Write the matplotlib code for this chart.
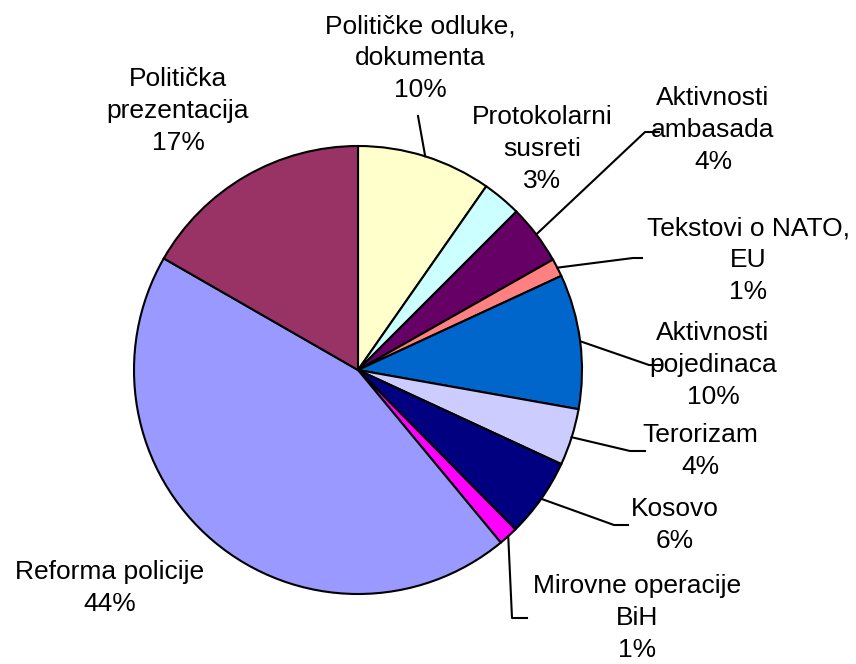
import matplotlib
matplotlib.use("Agg")
import matplotlib.pyplot as plt
import numpy as np

# category names and shares (%), clockwise from 12 o'clock
labels = ["Političke odluke,\ndokumenta", "Protokolarni\nsusreti", "Aktivnosti\nambasada",
          "Tekstovi o NATO,\nEU", "Aktivnosti\npojedinaca", "Terorizam", "Kosovo",
          "Mirovne operacije\nBiH", "Reforma policije", "Politička\nprezentacija"]
shares = [9.7, 2.8, 4.3, 1.3, 9.7, 4.1, 5.7, 1.4, 44.3, 16.7]
colors = ["#FFFFCC", "#CCFFFF", "#660066", "#FF8080", "#0066CC",
          "#CCCCFF", "#000080", "#FF00FF", "#9999FF", "#993366"]

# layout in pixels of the 856x664 canvas: label centres and leader elbows
CX, CY, R = 358, 370, 224
text_pos = [(420, 58), (542, 149), (713, 130), (748, 260), (713, 365),
            (700, 451), (675, 525), (637, 618), (110, 588), (178, 111)]
leaders = [[(418, 116)], [], [(645, 132), (659, 132)], [(633, 258), (642, 258)],
           [(649, 365), (660, 365)], [(630, 451), (645, 451)], [(614, 525), (628, 525)],
           [(512, 618), (527, 618)], [], []]


def px(p):
    return ((p[0] - CX) / R, (CY - p[1]) / R)


plt.rcParams['font.family'] = ['Liberation Sans', 'DejaVu Sans']

fig = plt.figure(figsize=(8.56, 6.64), dpi=100)
ax = fig.add_axes([0, 0, 1, 1])

wedges, _ = ax.pie(shares, colors=colors, startangle=90, counterclock=False,
                   radius=1, center=(0, 0),
                   wedgeprops=dict(edgecolor='black', linewidth=1.5))

# pie() resets the limits, so set them afterwards
ax.set_xlim(-CX / R, (856 - CX) / R)
ax.set_ylim((CY - 664) / R, CY / R)
ax.set_aspect('equal')
ax.axis('off')

total = sum(shares)
for w, lab, val, tp, ld in zip(wedges, labels, shares, text_pos, leaders):
    x, y = px(tp)
    ax.text(x, y, "%s\n%d%%" % (lab, round(val / total * 100)), ha='center', va='center',
            multialignment='center', fontsize=19, linespacing=1.4)
    if ld:
        mid = np.deg2rad((w.theta1 + w.theta2) / 2)
        xs = [np.cos(mid)] + [px(p)[0] for p in ld]
        ys = [np.sin(mid)] + [px(p)[1] for p in ld]
        ax.plot(xs, ys, color='black', linewidth=1.5)

fig.savefig("out.png", dpi=100)
